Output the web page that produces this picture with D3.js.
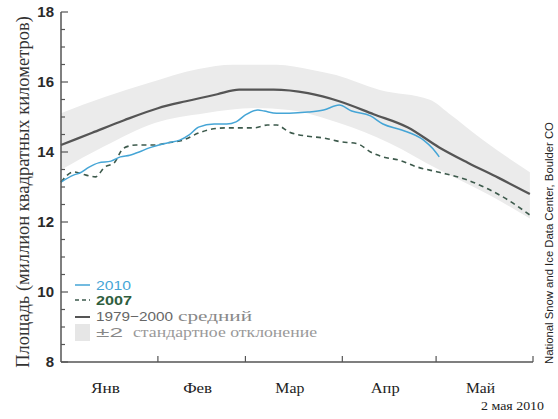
<!DOCTYPE html>
<html>
<head>
<meta charset="utf-8">
<script src="https://cdn.jsdelivr.net/npm/d3@7"></script>
<style>
  html, body { margin: 0; padding: 0; background: #fff; }
  svg { display: block; }
</style>
</head>
<body>
<svg id="chart" width="558" height="419"></svg>
<script>
// Arctic sea ice extent, Jan 1 – Jun 1 (day of year, million km²)

// 1979–2000 average
const meanDays   = [0, 10, 20, 31, 40, 50, 57, 68, 79, 89, 100, 111, 121, 130, 140, 150];
const meanValues = [14.2, 14.55, 14.9, 15.25, 15.45, 15.65, 15.78, 15.78, 15.68, 15.45, 15.08, 14.7, 14.13, 13.7, 13.26, 12.8];

// ±2 standard deviation envelope
const bandUpperDays   = [0, 14, 28, 44, 55, 69, 80, 88, 102, 118, 124, 135, 150];
const bandUpperValues = [15.11, 15.57, 15.97, 16.37, 16.49, 16.49, 16.35, 16.2, 15.77, 15.49, 15.11, 14.34, 13.42];
const bandLowerDays   = [0, 14, 30, 46, 62, 73, 89, 105, 121, 137, 150];
const bandLowerValues = [13.49, 14.17, 14.83, 15.11, 15.26, 15.2, 14.83, 14.26, 13.49, 12.77, 12.1];

// 2010 daily extent (through May 2)
const days2010   = [0, 4, 6, 9, 12, 16, 19, 22, 25, 28, 34, 38, 41, 44, 49, 53, 56, 59, 63, 65, 69, 73, 79, 84, 89, 93, 99, 103, 109, 116, 119, 121];
const values2010 = [13.14, 13.34, 13.4, 13.57, 13.69, 13.74, 13.86, 13.91, 14.0, 14.11, 14.26, 14.34, 14.49, 14.71, 14.8, 14.8, 14.86, 15.06, 15.2, 15.17, 15.11, 15.11, 15.14, 15.2, 15.34, 15.17, 15.03, 14.8, 14.63, 14.34, 14.09, 13.86];

// 2007 daily extent
const days2007   = [0, 4, 8, 11, 14, 17, 20, 24, 30, 34, 39, 44, 47, 53, 62, 66, 69, 73, 79, 84, 89, 95, 99, 103, 108, 114, 121, 130, 136, 143, 150];
const values2007 = [13.14, 13.43, 13.34, 13.29, 13.57, 13.69, 14.11, 14.2, 14.2, 14.26, 14.34, 14.54, 14.63, 14.69, 14.69, 14.77, 14.77, 14.57, 14.45, 14.4, 14.3, 14.23, 14.0, 13.86, 13.77, 13.57, 13.42, 13.2, 12.97, 12.63, 12.2];

// Axis labels
const monthStarts = [0, 31, 59, 90, 120, 151];
const monthNames  = ["Янв", "Фев", "Мар", "Апр", "Май"];
const yLabelTicks = [8, 10, 12, 14, 16, 18];
const yTitle = "Площадь (миллион квадратных километров)";
const dateNote = "2 мая 2010";
const credit = "National Snow and Ice Data Center, Boulder CO";

const svg = d3.select("#chart");
const SANS = "'Liberation Sans', Arial, sans-serif";
const SERIF = "'Liberation Serif', 'Times New Roman', serif";

const x = d3.scaleLinear().domain([0, 151]).range([61, 533]);
const y = d3.scaleLinear().domain([8, 18]).range([362, 12]);

const zip = (ds, vs) => ds.map((d, i) => ({ d, v: vs[i] }));

// Envelope: upper edge forward, lower edge back
const upper = zip(bandUpperDays, bandUpperValues);
const lower = zip(bandLowerDays, bandLowerValues);
const bandLine = d3.line().x(p => x(p.d)).y(p => y(p.v)).curve(d3.curveMonotoneX);
const upperPath = bandLine(upper);
const lowerRev = lower.slice().reverse().map(p => ({ d: -p.d, v: p.v }));
const lowerPath = d3.line().x(p => x(-p.d)).y(p => y(p.v)).curve(d3.curveMonotoneX)(lowerRev);
svg.append("path")
  .attr("d", upperPath + "L" + lowerPath.slice(1) + "Z")
  .attr("fill", "#ebebeb");

// Average line
svg.append("path")
  .datum(zip(meanDays, meanValues))
  .attr("d", bandLine)
  .attr("fill", "none")
  .attr("stroke", "#555")
  .attr("stroke-width", 2.3);

// 2007
const rough = d3.line().x(p => x(p.d)).y(p => y(p.v)).curve(d3.curveMonotoneX);
svg.append("path")
  .datum(zip(days2007, values2007))
  .attr("d", rough)
  .attr("fill", "none")
  .attr("stroke", "#3d5a4c")
  .attr("stroke-width", 1.6)
  .attr("stroke-dasharray", "5,4");

// 2010
svg.append("path")
  .datum(zip(days2010, values2010))
  .attr("d", rough)
  .attr("fill", "none")
  .attr("stroke", "#45a5d6")
  .attr("stroke-width", 1.5);

// Y axis with inward ticks
const yAxis = svg.append("g").attr("transform", `translate(${x(0)},0)`);
yAxis.append("line")
  .attr("x1", 0).attr("x2", 0).attr("y1", y(18)).attr("y2", y(8))
  .attr("stroke", "#555").attr("stroke-width", 1.5);
const yTicks = d3.range(8, 18.01, 0.5);
yAxis.selectAll("line.tick").data(yTicks).enter().append("line")
  .attr("class", "tick")
  .attr("x1", 0).attr("x2", d => (d % 2 === 0 ? 7 : 4))
  .attr("y1", d => y(d)).attr("y2", d => y(d))
  .attr("stroke", "#555").attr("stroke-width", 1.2);
yAxis.selectAll("text").data(yLabelTicks).enter().append("text")
  .attr("x", -7).attr("y", d => y(d)).attr("dy", "0.36em")
  .attr("text-anchor", "end")
  .attr("font-family", SANS).attr("font-weight", "bold").attr("font-size", 15)
  .attr("fill", "#2a2a2a")
  .text(d => d);

// X axis with month ticks
const xAxis = svg.append("g");
xAxis.append("line")
  .attr("x1", x(0)).attr("x2", x(151)).attr("y1", y(8)).attr("y2", y(8))
  .attr("stroke", "#555").attr("stroke-width", 1.5);
xAxis.selectAll("line.tick").data(monthStarts.slice(1)).enter().append("line")
  .attr("class", "tick")
  .attr("x1", d => x(d)).attr("x2", d => x(d))
  .attr("y1", y(8)).attr("y2", y(8) - 6)
  .attr("stroke", "#555").attr("stroke-width", 1.2);
xAxis.selectAll("text").data(monthNames).enter().append("text")
  .attr("x", (d, i) => (x(monthStarts[i]) + x(monthStarts[i + 1])) / 2 - 4)
  .attr("y", 393)
  .attr("text-anchor", "middle")
  .attr("font-family", SERIF).attr("font-size", 15.5)
  .attr("textLength", 29).attr("lengthAdjust", "spacingAndGlyphs")
  .attr("fill", "#222")
  .text(d => d);

// Y title
svg.append("text")
  .attr("transform", `translate(29,192) rotate(-90)`)
  .attr("text-anchor", "middle")
  .attr("font-family", SERIF).attr("font-size", 18.5)
  .attr("fill", "#333")
  .text(yTitle);

// Date note
svg.append("text")
  .attr("x", 544).attr("y", 410)
  .attr("text-anchor", "end")
  .attr("font-family", SERIF).attr("font-size", 13.5)
  .attr("textLength", 63).attr("lengthAdjust", "spacingAndGlyphs")
  .attr("fill", "#222")
  .text(dateNote);

// Credit line
svg.append("text")
  .attr("transform", `translate(553,243) rotate(-90)`)
  .attr("text-anchor", "middle")
  .attr("font-family", SANS).attr("font-size", 11.3)
  .attr("fill", "#222")
  .text(credit);

// Legend
const lg = svg.append("g");
function legendText(xPos, yPos, str, family, size, len, color, weight) {
  lg.append("text").attr("x", xPos).attr("y", yPos)
    .attr("font-family", family).attr("font-size", size)
    .attr("font-weight", weight || "normal")
    .attr("textLength", len).attr("lengthAdjust", "spacingAndGlyphs")
    .attr("fill", color)
    .text(str);
}

lg.append("line").attr("x1", 75).attr("x2", 90).attr("y1", 285).attr("y2", 285)
  .attr("stroke", "#45a5d6").attr("stroke-width", 1.5);
legendText(96, 290, "2010", SANS, 13, 35, "#45a5d6");

lg.append("line").attr("x1", 75).attr("x2", 90).attr("y1", 300).attr("y2", 300)
  .attr("stroke", "#3d5a4c").attr("stroke-width", 1.6).attr("stroke-dasharray", "4,3");
legendText(96, 305, "2007", SANS, 13, 36, "#2f5e3e", "bold");

lg.append("line").attr("x1", 75).attr("x2", 90).attr("y1", 317).attr("y2", 317)
  .attr("stroke", "#555").attr("stroke-width", 2);
legendText(96, 321, "1979\u22122000", SANS, 13, 77, "#666");
legendText(178, 321, "средний", SERIF, 14, 74, "#888");

lg.append("rect").attr("x", 75).attr("y", 324).attr("width", 15).attr("height", 17)
  .attr("fill", "#e6e6e6");
legendText(96, 337, "\u00b12", SANS, 13, 27, "#888");
legendText(133, 337, "стандартное отклонение", SERIF, 14, 184, "#999");
</script>
</body>
</html>
